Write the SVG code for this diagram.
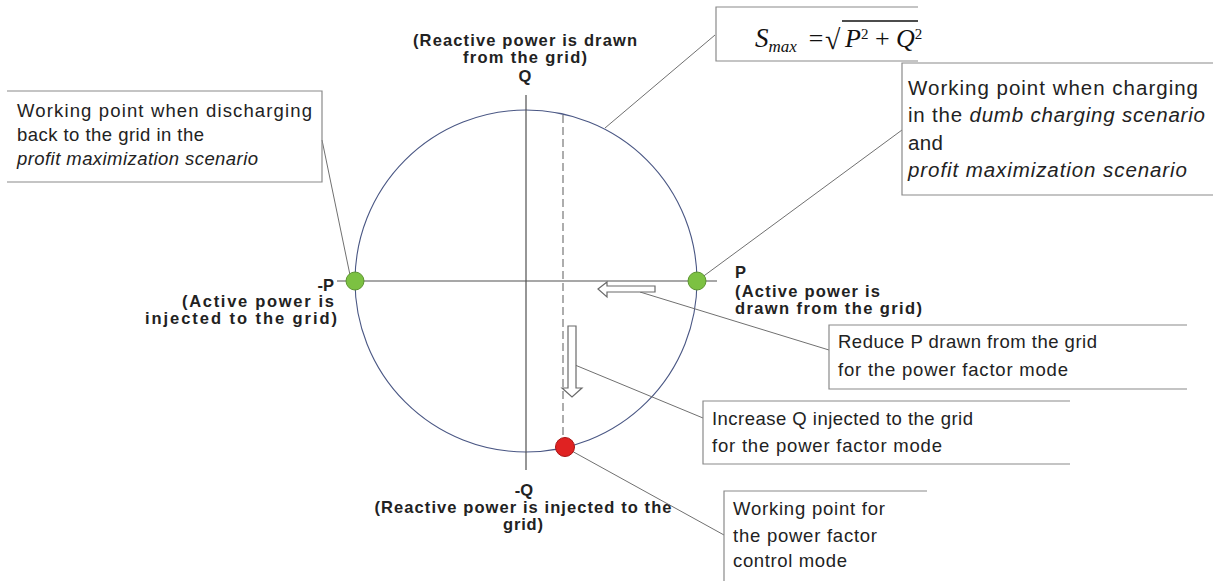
<svg xmlns="http://www.w3.org/2000/svg" width="1213" height="581" viewBox="0 0 1213 581">
<style>
.box{fill:none;stroke:#8a8a8a;stroke-width:1.2}
.txt{font-family:"Liberation Sans",Arial,sans-serif;font-size:18.5px;fill:#222}
.big{font-size:20.5px}
.it{font-style:italic}
.lbl{font-family:"Liberation Sans",Arial,sans-serif;font-size:16.5px;font-weight:bold;fill:#222}
.conn{stroke:#707070;stroke-width:1;fill:none}
.axis{stroke:#505050;stroke-width:1.2}
.math{font-family:"Liberation Serif","Times New Roman",serif;font-style:italic;fill:#111}
.arrow{fill:#fff;stroke:#6a6a6a;stroke-width:1.2}
</style>
<rect width="1213" height="581" fill="#fff"/>
<g id="plane">
<circle cx="526" cy="281" r="171" fill="none" stroke="#4a5784" stroke-width="1.1"/>
<line class="axis" x1="526" y1="95" x2="526" y2="470"/>
<line class="axis" x1="337" y1="281" x2="717" y2="281"/>
<line x1="563" y1="115" x2="563" y2="440" stroke="#777" stroke-width="1.2" stroke-dasharray="8,4"/>
</g>
<g id="axis-labels">
<text class="lbl" x="525" y="46" text-anchor="middle" textLength="224">(Reactive power is drawn</text>
<text class="lbl" x="525" y="63" text-anchor="middle" textLength="124">from the grid)</text>
<text class="lbl" x="525" y="82" text-anchor="middle">Q</text>
<text class="lbl" x="735" y="278">P</text>
<text class="lbl" x="735" y="297" textLength="145">(Active power is</text>
<text class="lbl" x="735" y="314" textLength="187">drawn from the grid)</text>
<text class="lbl" x="334" y="291" text-anchor="end">-P</text>
<text class="lbl" x="334" y="307" text-anchor="end" textLength="152">(Active power is</text>
<text class="lbl" x="337" y="324" text-anchor="end" textLength="192">injected to the grid)</text>
<text class="lbl" x="524" y="496" text-anchor="middle">-Q</text>
<text class="lbl" x="523" y="513" text-anchor="middle" textLength="297">(Reactive power is injected to the</text>
<text class="lbl" x="523" y="530" text-anchor="middle" textLength="40">grid)</text>
</g>
<g id="connectors">
<line class="conn" x1="715" y1="35" x2="605" y2="128"/>
<line class="conn" x1="322" y1="140" x2="350" y2="275"/>
<line class="conn" x1="902" y1="130" x2="701" y2="278"/>
<line class="conn" x1="640" y1="292" x2="829" y2="350"/>
<line class="conn" x1="575" y1="365" x2="703" y2="418"/>
<line class="conn" x1="570" y1="450" x2="724" y2="535"/>
</g>
<g id="arrows">
<polygon class="arrow" points="598,289 607,282 607,286 655,286 655,292 607,292 607,297"/>
<polygon class="arrow" points="568,326 576,326 576,388 582,388 572,397 562,388 568,388"/>
</g>
<g id="points">
<circle cx="355" cy="281" r="9" fill="#7cc142" stroke="#5c9530" stroke-width="1"/>
<circle cx="697" cy="281" r="9" fill="#7cc142" stroke="#5c9530" stroke-width="1"/>
<circle cx="565" cy="447" r="9.5" fill="#e02222" stroke="#a81414" stroke-width="1"/>
</g>
<g id="formula">
<path class="box" d="M918,7 H716 V61 H918"/>
<text class="math" x="755" y="47" font-size="27">S<tspan font-size="17" dy="5">max</tspan></text>
<text class="math" x="807" y="47" font-size="26" font-style="normal">=</text>
<text class="math" x="825" y="49" font-size="28" font-style="normal">√</text>
<line x1="842" y1="21" x2="918" y2="21" stroke="#111" stroke-width="1.3"/>
<text class="math" x="845" y="47" font-size="26">P<tspan font-size="15" font-style="normal" dy="-8">2</tspan><tspan font-style="normal" dy="8"> + </tspan>Q<tspan font-size="15" font-style="normal" dy="-8">2</tspan></text>
</g>
<g id="discharge-note">
<path class="box" d="M7,91 H322 V182 H7"/>
<text class="txt" x="17" y="117" textLength="295">Working point when discharging</text>
<text class="txt" x="17" y="141" textLength="187">back to the grid in the</text>
<text class="txt it" x="17" y="165" textLength="241">profit maximization scenario</text>
</g>
<g id="charge-note">
<path class="box" d="M1213,63 H902 V195 H1213"/>
<text class="txt big" x="908" y="95" textLength="290">Working point when charging</text>
<text class="txt big" x="908" y="122" textLength="297">in the <tspan class="it">dumb charging scenario</tspan></text>
<text class="txt big" x="908" y="150" textLength="35">and</text>
<text class="txt big it" x="908" y="177" textLength="279">profit maximization scenario</text>
</g>
<g id="reduce-p-note">
<path class="box" d="M1187,325 H829 V389 H1187"/>
<text class="txt" x="838" y="348" textLength="259">Reduce P drawn from the grid</text>
<text class="txt" x="838" y="376" textLength="230">for the power factor mode</text>
</g>
<g id="increase-q-note">
<path class="box" d="M1070,401 H703 V464 H1070"/>
<text class="txt" x="712" y="425" textLength="261">Increase Q injected to the grid</text>
<text class="txt" x="712" y="452" textLength="230">for the power factor mode</text>
</g>
<g id="pf-point-note">
<path class="box" d="M927,491 H724 V581"/>
<text class="txt" x="733" y="515" textLength="152">Working point for</text>
<text class="txt" x="733" y="542" textLength="144">the power factor</text>
<text class="txt" x="733" y="567" textLength="114">control mode</text>
</g>
</svg>
